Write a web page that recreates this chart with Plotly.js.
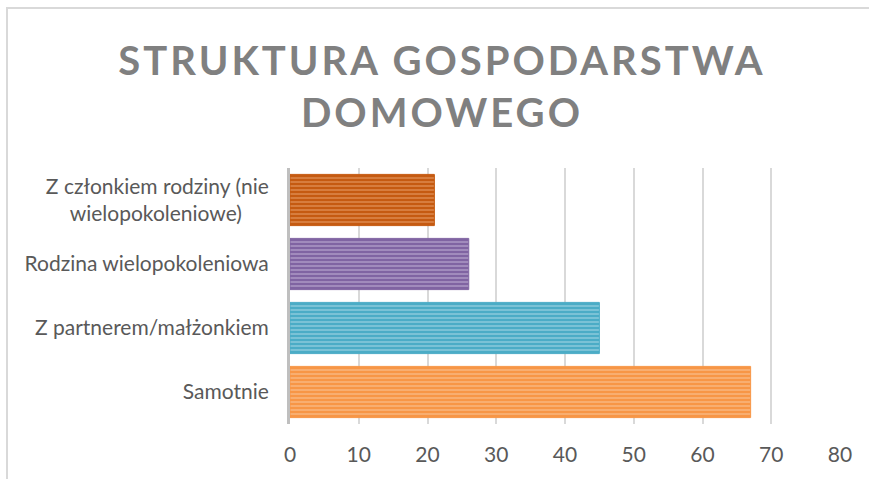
<!DOCTYPE html>
<html>
<head>
<meta charset="utf-8">
<script src="https://cdn.plot.ly/plotly-3.0.1.min.js"></script>
<style>
  body { margin: 0; background: #fff; }
  #frame { position: absolute; left: 6px; top: 7px; width: 900px; height: 520px;
           border-left: 2px solid #d9d9d9; border-top: 2px solid #d9d9d9; }
  #chart { position: absolute; left: 0; top: 0; width: 869px; height: 479px; }
  #chart .gtitle { letter-spacing: 3px; }
</style>
</head>
<body>
<div id="frame"></div>
<div id="chart"></div>
<script>
// bottom to top, as plotly draws categories on a horizontal bar chart
const categories = [
  "Samotnie",
  "Z partnerem/małżonkiem",
  "Rodzina wielopokoleniowa",
  "Z członkiem rodziny (nie<br>wielopokoleniowe)&nbsp;&nbsp;&nbsp;&nbsp;&nbsp;"
];
const values = [67, 45, 26, 21];
const bar_colors = ["#f79646", "#4bacc6", "#8064a2", "#c55a11"];
const stripe_colors = ["#fcd3b0", "#c2e5ee", "#d3c6e4", "#f4b183"];
const x_ticks = [0, 10, 20, 30, 40, 50, 60, 70, 80];

const font_family = "Lato, 'Open Sans', sans-serif";

// one trace per bar so each gets its own stripe pattern
let data = categories.map((cat, i) => ({
  type: "bar",
  orientation: "h",
  y: [cat],
  x: [values[i]],
  width: 0.8,
  hoverinfo: "none",
  marker: {
    color: bar_colors[i],
    line: { color: bar_colors[i], width: 1 },
    pattern: {
      shape: "-",
      fgcolor: stripe_colors[i],
      size: 4,
      solidity: 0.4,
      fillmode: "overlay"
    }
  }
}));

let layout = {
  width: 869,
  height: 479,
  paper_bgcolor: "rgba(0,0,0,0)",
  plot_bgcolor: "rgba(0,0,0,0)",
  margin: { l: 290, r: 29, t: 168, b: 55, pad: 0 },
  showlegend: false,
  barmode: "overlay",
  font: { family: font_family, color: "#595959", size: 21 },
  title: {
    text: "<b>STRUKTURA GOSPODARSTWA<br>DOMOWEGO</b>",
    font: { family: font_family, size: 40, color: "#808080" },
    xref: "container",
    yref: "container",
    x: 0.5086,
    y: 0.843,
    xanchor: "center",
    yanchor: "middle"
  },
  xaxis: {
    range: [0, 80],
    tickvals: x_ticks,
    ticks: "",
    showgrid: true,
    gridcolor: "#d9d9d9",
    gridwidth: 2,
    zeroline: false,
    showline: false,
    ticklabelstandoff: 16,
    tickfont: { size: 21, color: "#595959" },
    fixedrange: true
  },
  yaxis: {
    type: "category",
    categoryorder: "array",
    categoryarray: categories,
    ticks: "",
    showgrid: false,
    zeroline: false,
    showline: true,
    linecolor: "#bfbfbf",
    linewidth: 3,
    ticklabelstandoff: 14,
    tickfont: { size: 21, color: "#595959" },
    fixedrange: true
  }
};

Plotly.newPlot("chart", data, layout, { displayModeBar: false, staticPlot: true });
</script>
</body>
</html>
